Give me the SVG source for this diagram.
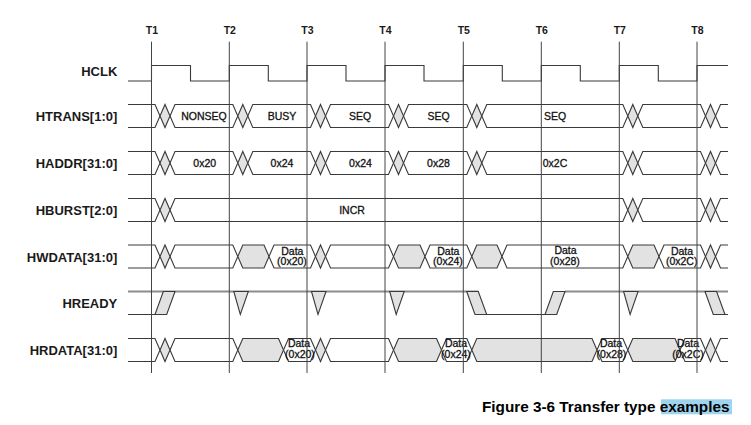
<svg xmlns="http://www.w3.org/2000/svg" width="751" height="425" viewBox="0 0 751 425">
<style>
text{font-family:"Liberation Sans",Arial,sans-serif;fill:#1a1a1a}
.lbl{font-size:13px;font-weight:bold;text-anchor:end}
.tk{font-size:10.5px;font-weight:bold;text-anchor:middle}
.v{font-size:10.5px;text-anchor:middle;fill:#111;stroke:#111;stroke-width:0.3}
.w{fill:#fff;stroke:#3a3a3a;stroke-width:1.1}
.g{fill:#e2e2e2;stroke:#3a3a3a;stroke-width:1.1}
.o{fill:none;stroke:#3a3a3a;stroke-width:1.1}
.hi{fill:none;stroke:#8c8c8c;stroke-width:1.8}
.tl{stroke:#444;stroke-width:1}
</style>
<defs>
<path id="dm" class="g" d="M0,0 L5,-11.5 L10,0 L5,11.5 Z"/>
<path id="vt" class="g" d="M0,0 L6.5,23 L14.5,0 Z"/>
<path id="rise" class="g" d="M0,23 L8.3,0 L20,0 L11.7,23 Z"/>
<path id="fall" class="g" d="M0,0 L11.6,0 L20,23 L8.3,23 Z"/>
<path id="os" class="o" d="M128,-11.5 H155 L160,0 L155,11.5 H128"/>
<path id="oe" class="o" d="M728,-11.5 H720.5 L715.5,0 L720.5,11.5 H728"/>
</defs>
<rect width="751" height="425" fill="#fff"/>

<g id="clock-labels" class="tk">
<text x="152" y="34" class="tk">T1</text>
<text x="229.8" y="34" class="tk">T2</text>
<text x="307.5" y="34" class="tk">T3</text>
<text x="385.5" y="34" class="tk">T4</text>
<text x="463.8" y="34" class="tk">T5</text>
<text x="541.8" y="34" class="tk">T6</text>
<text x="619.8" y="34" class="tk">T7</text>
<text x="697.5" y="34" class="tk">T8</text>
</g>

<g id="labels">
<text x="117.3" y="75.5" class="lbl">HCLK</text>
<text x="117.3" y="121" class="lbl">HTRANS[1:0]</text>
<text x="117.3" y="167.8" class="lbl">HADDR[31:0]</text>
<text x="117.3" y="214.8" class="lbl">HBURST[2:0]</text>
<text x="117.3" y="261.6" class="lbl">HWDATA[31:0]</text>
<text x="117.3" y="308" class="lbl">HREADY</text>
<text x="117.3" y="355.3" class="lbl">HRDATA[31:0]</text>
</g>

<g id="HCLK">
<path class="o" d="M128,81 H151.5 V65.5 H190.5 V81 H229.3 V65.5 H268.3 V81 H307 V65.5 H346 V81 H385 V65.5 H424 V81 H463.3 V65.5 H502.3 V81 H541.3 V65.5 H580.3 V81 H619.3 V65.5 H658.3 V81 H697 V65.5 H728"/>
</g>

<g id="HTRANS" transform="translate(0,116)">
<use href="#os"/>
<path class="w" d="M170,0 L175,-11.5 H232.8 L237.8,0 L232.8,11.5 H175 Z"/>
<path class="w" d="M247.8,0 L252.8,-11.5 H310.5 L315.5,0 L310.5,11.5 H252.8 Z"/>
<path class="w" d="M325.5,0 L330.5,-11.5 H388.5 L393.5,0 L388.5,11.5 H330.5 Z"/>
<path class="w" d="M403.5,0 L408.5,-11.5 H466.8 L471.8,0 L466.8,11.5 H408.5 Z"/>
<path class="w" d="M481.8,0 L486.8,-11.5 H622.8 L627.8,0 L622.8,11.5 H486.8 Z"/>
<path class="w" d="M637.8,0 L642.8,-11.5 H700.5 L705.5,0 L700.5,11.5 H642.8 Z"/>
<use href="#dm" x="160"/><use href="#dm" x="237.8"/><use href="#dm" x="315.5"/><use href="#dm" x="393.5"/><use href="#dm" x="471.8"/><use href="#dm" x="627.8"/><use href="#dm" x="705.5"/>
<use href="#oe"/>
<text x="204" y="4" class="v">NONSEQ</text>
<text x="282" y="4" class="v">BUSY</text>
<text x="360" y="4" class="v">SEQ</text>
<text x="438.5" y="4" class="v">SEQ</text>
<text x="555" y="4" class="v">SEQ</text>
</g>

<g id="HADDR" transform="translate(0,163)">
<use href="#os"/>
<path class="w" d="M170,0 L175,-11.5 H232.8 L237.8,0 L232.8,11.5 H175 Z"/>
<path class="w" d="M247.8,0 L252.8,-11.5 H310.5 L315.5,0 L310.5,11.5 H252.8 Z"/>
<path class="w" d="M325.5,0 L330.5,-11.5 H388.5 L393.5,0 L388.5,11.5 H330.5 Z"/>
<path class="w" d="M403.5,0 L408.5,-11.5 H466.8 L471.8,0 L466.8,11.5 H408.5 Z"/>
<path class="w" d="M481.8,0 L486.8,-11.5 H622.8 L627.8,0 L622.8,11.5 H486.8 Z"/>
<path class="w" d="M637.8,0 L642.8,-11.5 H700.5 L705.5,0 L700.5,11.5 H642.8 Z"/>
<use href="#dm" x="160"/><use href="#dm" x="237.8"/><use href="#dm" x="315.5"/><use href="#dm" x="393.5"/><use href="#dm" x="471.8"/><use href="#dm" x="627.8"/><use href="#dm" x="705.5"/>
<use href="#oe"/>
<text x="204.7" y="3.8" class="v">0x20</text>
<text x="282" y="3.8" class="v">0x24</text>
<text x="360.5" y="3.8" class="v">0x24</text>
<text x="438.5" y="3.8" class="v">0x28</text>
<text x="555" y="3.8" class="v">0x2C</text>
</g>

<g id="HBURST" transform="translate(0,210)">
<use href="#os"/>
<path class="w" d="M170,0 L175,-11.5 H622.8 L627.8,0 L622.8,11.5 H175 Z"/>
<path class="w" d="M637.8,0 L642.8,-11.5 H700.5 L705.5,0 L700.5,11.5 H642.8 Z"/>
<use href="#dm" x="160"/><use href="#dm" x="627.8"/><use href="#dm" x="705.5"/>
<use href="#oe"/>
<text x="352" y="4" class="v">INCR</text>
</g>

<g id="HWDATA" transform="translate(0,256.5)">
<use href="#os"/>
<path class="w" d="M170,0 L175,-11.5 H232.8 L237.8,0 L232.8,11.5 H175 Z"/>
<path class="g" d="M237.8,0 L242.8,-11.5 H264 L269,0 L264,11.5 H242.8 Z"/>
<path class="w" d="M269,0 L274,-11.5 H310.5 L315.5,0 L310.5,11.5 H274 Z"/>
<path class="w" d="M325.5,0 L330.5,-11.5 H388.5 L393.5,0 L388.5,11.5 H330.5 Z"/>
<path class="g" d="M393.5,0 L398.5,-11.5 H420 L425,0 L420,11.5 H398.5 Z"/>
<path class="w" d="M425,0 L430,-11.5 H466.8 L471.8,0 L466.8,11.5 H430 Z"/>
<path class="g" d="M471.8,0 L476.8,-11.5 H497 L502,0 L497,11.5 H476.8 Z"/>
<path class="w" d="M502,0 L507,-11.5 H622.8 L627.8,0 L622.8,11.5 H507 Z"/>
<path class="g" d="M627.8,0 L632.8,-11.5 H654 L659,0 L654,11.5 H632.8 Z"/>
<path class="w" d="M659,0 L664,-11.5 H700.5 L705.5,0 L700.5,11.5 H664 Z"/>
<use href="#dm" x="160"/><use href="#dm" x="315.5"/><use href="#dm" x="705.5"/>
<use href="#oe"/>
<text x="292.3" y="-2" class="v">Data</text><text x="292" y="8.5" class="v">(0x20)</text>
<text x="448.3" y="-2" class="v">Data</text><text x="448" y="8.5" class="v">(0x24)</text>
<text x="565.5" y="-2.5" class="v">Data</text><text x="565" y="8" class="v">(0x28)</text>
<text x="682" y="-2" class="v">Data</text><text x="681.7" y="8.5" class="v">(0x2C)</text>
</g>

<g id="HREADY">
<path class="o" d="M128,314.5 H155 M486.7,314.5 H545 M725,314.5 H728"/>
<path class="hi" d="M128,291.5 H478.3 M565,291.5 H728"/>
<use href="#rise" x="155" y="291.5"/>
<use href="#vt" x="233.8" y="291.5"/>
<use href="#vt" x="311.5" y="291.5"/>
<use href="#vt" x="389.7" y="291.5"/>
<use href="#fall" x="466.7" y="291.5"/>
<use href="#rise" x="545" y="291.5"/>
<use href="#vt" x="623.6" y="291.5"/>
<use href="#fall" x="705" y="291.5"/>
</g>

<g id="HRDATA" transform="translate(0,350)">
<use href="#os"/>
<path class="w" d="M170,0 L175,-11.5 H232.8 L237.8,0 L232.8,11.5 H175 Z"/>
<path class="g" d="M237.8,0 L242.8,-11.5 H278.5 L283.5,0 L278.5,11.5 H242.8 Z"/>
<path class="w" d="M283.5,0 L288.5,-11.5 H310.5 L315.5,0 L310.5,11.5 H288.5 Z"/>
<path class="w" d="M325.5,0 L330.5,-11.5 H388.5 L393.5,0 L388.5,11.5 H330.5 Z"/>
<path class="g" d="M393.5,0 L398.5,-11.5 H436.5 L441.5,0 L436.5,11.5 H398.5 Z"/>
<path class="w" d="M441.5,0 L446.5,-11.5 H466.8 L471.8,0 L466.8,11.5 H446.5 Z"/>
<path class="g" d="M471.8,0 L476.8,-11.5 H592 L597,0 L592,11.5 H476.8 Z"/>
<path class="w" d="M597,0 L602,-11.5 H622.8 L627.8,0 L622.8,11.5 H602 Z"/>
<path class="g" d="M627.8,0 L632.8,-11.5 H675 L680,0 L675,11.5 H632.8 Z"/>
<path class="w" d="M680,0 L685,-11.5 H700.5 L705.5,0 L700.5,11.5 H685 Z"/>
<use href="#dm" x="160"/><use href="#dm" x="315.5"/><use href="#dm" x="705.5"/>
<use href="#oe"/>
<text x="299" y="-3" class="v">Data</text><text x="300" y="7.5" class="v">(0x20)</text>
<text x="456" y="-3" class="v">Data</text><text x="456" y="7.5" class="v">(0x24)</text>
<text x="611" y="-3" class="v">Data</text><text x="611.5" y="7.5" class="v">(0x28)</text>
<text x="688" y="-3" class="v">Data</text><text x="688" y="7.5" class="v">(0x2C)</text>
</g>

<g id="connectors">
<path class="tl" d="M151.5,41.7 V373 M229.3,41.7 V373 M307,41.7 V373 M385,41.7 V373 M463.3,41.7 V373 M541.3,41.7 V373 M619.3,41.7 V373 M697,41.7 V373"/>
</g>

<g id="caption">
<rect x="661" y="399.3" width="71" height="15" fill="#9fd4ef"/>
<text x="482" y="411.5" style="font-size:15.3px;font-weight:bold;fill:#000">Figure 3-6 Transfer type examples</text>
</g>
</svg>
